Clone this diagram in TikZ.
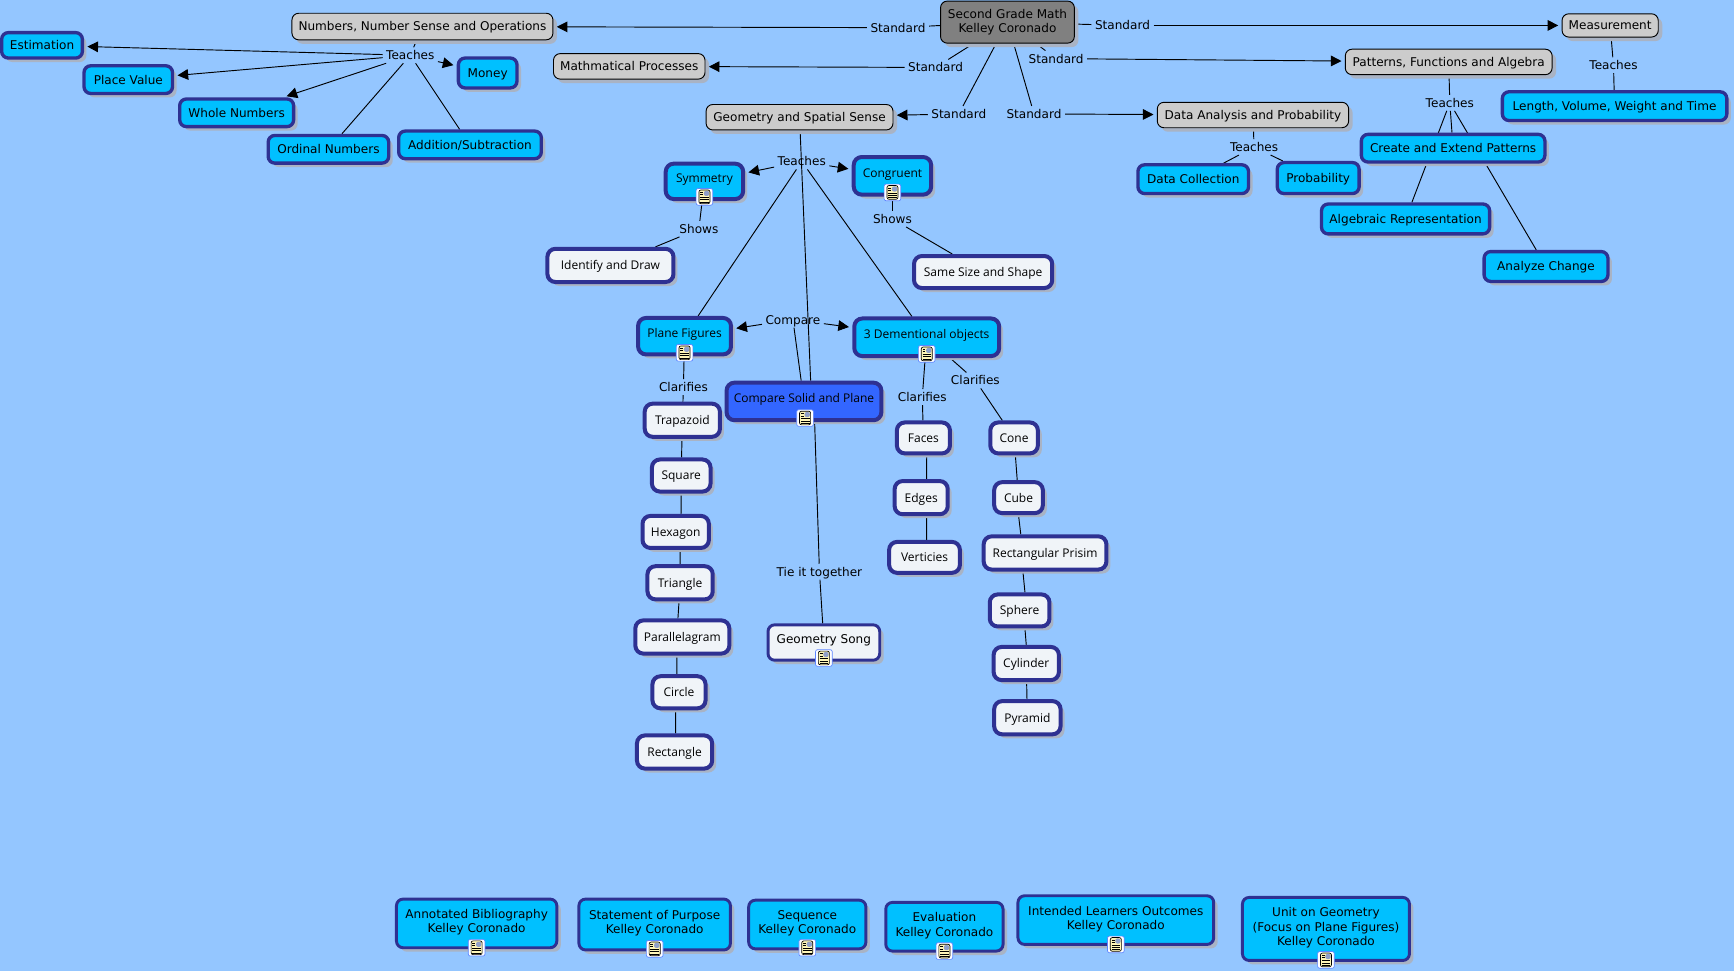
\documentclass[tikz,border=0pt]{standalone}
\usepackage{fontspec}
\setmainfont{DejaVu Sans}
\newfontfamily\handfont{Open Sans}
\usetikzlibrary{arrows.meta, shadows, backgrounds}
\definecolor{mapSky}{HTML}{94C6FF}
\definecolor{mapCyan}{HTML}{00C0FF}
\definecolor{mapNavy}{HTML}{2E3192}
\definecolor{mapGrey}{HTML}{CCCCCC}
\definecolor{mapDark}{HTML}{808080}
\definecolor{mapRoyal}{HTML}{3366FF}
\definecolor{mapWhite}{HTML}{F0F4F8}
\definecolor{mapShade}{HTML}{A9B3C4}
\definecolor{mapNote}{HTML}{FFF6B8}

\begin{document}
\begin{tikzpicture}[
    x=0.8294pt, y=-0.8294pt,
    sz/.style 2 args={minimum width={(#1-3)*0.8294pt}, minimum height={(#2-3)*0.8294pt}},
    oneline/.style={text height=6.6pt, text depth=0pt},
    multi/.style={text height=, text depth=3.6pt},
    boxed/.style={rectangle, inner sep=1pt, align=center, oneline,
                  drop shadow={shadow xshift=3pt, shadow yshift=-3pt, fill=mapShade, opacity=1}},
    topic/.style={boxed, rounded corners=5pt, draw=black, line width=0.7pt, fill=mapGrey,
                  font=\fontsize{9.05}{10.8}\selectfont},
    skill/.style={boxed, rounded corners=5pt, draw=mapNavy, line width=2.5pt, fill=mapCyan,
                  font=\fontsize{9.05}{10.8}\selectfont},
    paper/.style={skill, multi, line width=2.2pt},
    unit/.style={skill, line width=3pt, rounded corners=6pt, font=\handfont\fontsize{9}{10.8}\selectfont},
    leaf/.style={unit, fill=mapWhite},
    noted/.style={oneline, text depth=4.5pt},
    phrase/.style={inner sep=2.5pt, oneline, font=\fontsize{9.05}{10.8}\selectfont},
    noteicon/.style={rectangle, rounded corners=1.5pt, draw=mapRoyal!80, line width=0.5pt, fill=white,
                  minimum size=12.5pt, inner sep=0pt,
                  path picture={
                    \begin{scope}[shift={(path picture bounding box.center)}, draw=black]
                      \fill[mapNote] (-5,-6.2) rectangle (5,6.2);
                      \fill[mapRoyal!40!gray!70] (-0.5,-5.4) rectangle (4.3,-0.8);
                      \draw[line width=0.5pt] (-5,-6.2) rectangle (5,6.2);
                      \draw[line width=0.4pt] (-3.8,-4) -- (-1.2,-4) (-3.8,-2) -- (-1.2,-2) (-3.8,0.6) -- (4,0.6)
                        (-3.8,2.6) -- (4,2.6) (-3.8,4.6) -- (4,4.6);
                    \end{scope}}},
    link/.style={draw=black, line width=0.7pt},
    arrowto/.style={link, -{Triangle[length=8pt, width=8pt]}, shorten >=2.5pt},
  ]
    \useasboundingbox (0,0) rectangle (1568,878);

    \node[topic, multi, text depth=2pt, sz={124}{41}, fill=mapDark] (root) at (911,20) {Second Grade Math\\Kelley Coronado};
    \node[topic, sz={239}{27}] (numbers) at (382,24) {Numbers, Number Sense and Operations};
    \node[topic, sz={140}{26}] (process) at (569,60) {Mathmatical Processes};
    \node[topic, sz={172}{26}] (geometry) at (723,106) {Geometry and Spatial Sense};
    \node[topic, sz={176}{26}] (data) at (1133,104) {Data Analysis and Probability};
    \node[topic, sz={190}{26}] (patterns) at (1310,56) {Patterns, Functions and Algebra};
    \node[topic, sz={90}{24}] (measure) at (1456,23) {Measurement};

    \node[phrase] (stdNumbers) at (812,25) {Standard};
    \node[phrase] (stdProcess) at (846,61) {Standard};
    \node[phrase] (stdGeometry) at (867,103) {Standard};
    \node[phrase] (stdData) at (935,103) {Standard};
    \node[phrase] (stdPatterns) at (955,53) {Standard};
    \node[phrase] (stdMeasure) at (1015,23) {Standard};

    \node[skill, sz={76}{26}] (estimation) at (38,41) {Estimation};
    \node[skill, sz={83}{28}] (placeValue) at (116,72) {Place Value};
    \node[skill, sz={106}{28}] (wholeNum) at (214,102) {Whole Numbers};
    \node[skill, sz={112}{28}] (ordinal) at (297,135) {Ordinal Numbers};
    \node[skill, sz={132}{28}] (addition) at (425,131) {Addition/Subtraction};
    \node[skill, sz={56}{30}] (money) at (441,66) {Money};
    \node[skill, sz={206}{29}] (length) at (1460,96) {Length, Volume, Weight and Time};
    \node[skill, sz={169}{28}] (create) at (1314,134) {Create and Extend Patterns};
    \node[skill, sz={155}{30}] (algebraic) at (1271,198) {Algebraic Representation};
    \node[skill, sz={115}{30}] (analyze) at (1398,241) {Analyze Change};
    \node[skill, sz={103}{29}] (collection) at (1079,162) {Data Collection};
    \node[skill, sz={77}{31}] (probability) at (1192,161) {Probability};

    \node[phrase] (teachNumbers) at (371,50) {Teaches};
    \node[phrase] (teachMeasure) at (1459,59) {Teaches};
    \node[phrase] (teachPatterns) at (1311,93) {Teaches};
    \node[phrase] (teachData) at (1134,133) {Teaches};
    \node[phrase] (teachGeometry) at (725,146) {Teaches};

    \node[unit, noted, sz={73}{35}] (symmetry) at (637,164) {Symmetry};
    \node[unit, noted, sz={73}{37}] (congruent) at (807,159) {Congruent};
    \node[unit, noted, sz={87}{36}] (plane) at (619,304) {Plane Figures};
    \node[unit, noted, sz={134}{37}] (solid) at (838,305) {3 Dementional objects};
    \node[unit, noted, sz={143}{37}, fill=mapRoyal] (compare) at (727,363) {Compare Solid and Plane};

    \node[phrase] (showSymmetry) at (632,207) {Shows};
    \node[phrase] (showCongruent) at (807,198) {Shows};
    \node[phrase] (compareTo) at (717,289) {Compare};
    \node[phrase] (clarPlane) at (618,350) {Clarifies};
    \node[phrase] (clarFaces) at (834,359) {Clarifies};
    \node[phrase] (clarCone) at (882,344) {Clarifies};
    \node[phrase] (tieTogether) at (741,517) {Tie it together};

    \node[leaf, sz={117}{33}] (identify) at (552,240) {Identify and Draw};
    \node[leaf, sz={128}{32}] (sameSize) at (889,246) {Same Size and Shape};
    \node[leaf, sz={71}{33}] (trapazoid) at (617,380) {Trapazoid};
    \node[leaf, sz={56}{32}] (square) at (616,430) {Square};
    \node[leaf, sz={63}{32}] (hexagon) at (611,481) {Hexagon};
    \node[leaf, sz={62}{33}] (triangle) at (615,527) {Triangle};
    \node[leaf, sz={88}{33}] (parallel) at (617,576) {Parallelagram};
    \node[leaf, sz={51}{32}] (circleNode) at (614,626) {Circle};
    \node[leaf, sz={71}{33}] (rectNode) at (610,680) {Rectangle};
    \node[leaf, sz={51}{31}] (faces) at (835,396) {Faces};
    \node[leaf, sz={51}{33}] (edges) at (833,450) {Edges};
    \node[leaf, sz={67}{31}] (verticies) at (836,504) {Verticies};
    \node[leaf, sz={46}{31}] (cone) at (917,396) {Cone};
    \node[leaf, sz={47}{31}] (cube) at (921,450) {Cube};
    \node[leaf, sz={114}{33}] (prisim) at (945,500) {Rectangular Prisim};
    \node[leaf, sz={57}{32}] (sphere) at (922,552) {Sphere};
    \node[leaf, sz={62}{33}] (cylinder) at (928,600) {Cylinder};
    \node[leaf, sz={63}{33}] (pyramid) at (929,649) {Pyramid};
    \node[paper, noted, fill=mapWhite, sz={104}{35}] (song) at (745,581) {Geometry Song};

    \node[paper, sz={148}{47}] (biblio) at (431,835) {Annotated Bibliography\\Kelley Coronado};
    \node[paper, sz={140}{49}] (purpose) at (592,836) {Statement of Purpose\\Kelley Coronado};
    \node[paper, sz={109}{47}] (sequence) at (730,836) {Sequence\\Kelley Coronado};
    \node[paper, sz={109}{47}] (evaluation) at (854,838) {Evaluation\\Kelley Coronado};
    \node[paper, sz={180}{47}] (outcomes) at (1009,832) {Intended Learners Outcomes\\Kelley Coronado};
    \node[paper, sz={154}{60}] (geomUnit) at (1199,840) {Unit on Geometry\\(Focus on Plane Figures)\\Kelley Coronado};

    \node[noteicon] (iconSymmetry) at (637,178) {};
    \node[noteicon] (iconCongruent) at (807,174) {};
    \node[noteicon] (iconPlane) at (619,319) {};
    \node[noteicon] (iconSolid) at (838,320) {};
    \node[noteicon] (iconCompare) at (728,378) {};
    \node[noteicon] (iconSong) at (745,595) {};
    \node[noteicon] (iconBiblio) at (431,857) {};
    \node[noteicon] (iconPurpose) at (592,858) {};
    \node[noteicon] (iconSequence) at (730,857) {};
    \node[noteicon] (iconEvaluation) at (854,860) {};
    \node[noteicon] (iconOutcomes) at (1009,854) {};
    \node[noteicon] (iconUnit) at (1199,868) {};

    \begin{scope}[on background layer]
      \fill[mapSky] (0,0) rectangle (1568,878);

      \draw[link] (root) -- (stdNumbers);
      \draw[link] (root) -- (stdProcess);
      \draw[link] (root) -- (stdGeometry);
      \draw[link] (root) -- (stdData);
      \draw[link] (root) -- (stdPatterns);
      \draw[link] (root) -- (stdMeasure);
      \draw[arrowto] (stdNumbers) -- (numbers);
      \draw[arrowto] (stdProcess) -- (process);
      \draw[arrowto] (stdGeometry) -- (geometry);
      \draw[arrowto] (stdData) -- (data);
      \draw[arrowto] (stdPatterns) -- (patterns);
      \draw[arrowto] (stdMeasure) -- (measure);

      \draw[link] (numbers) -- (teachNumbers);
      \draw[arrowto] (teachNumbers) -- (estimation);
      \draw[arrowto] (teachNumbers) -- (placeValue);
      \draw[arrowto] (teachNumbers) -- (wholeNum);
      \draw[arrowto] (teachNumbers) -- (money);
      \draw[link] (teachNumbers) -- (ordinal);
      \draw[link] (teachNumbers) -- (addition);

      \draw[link] (measure) -- (teachMeasure);
      \draw[link] (teachMeasure) -- (length);
      \draw[link] (patterns) -- (teachPatterns);
      \draw[link] (teachPatterns) -- (create);
      \draw[link] (teachPatterns) -- (algebraic);
      \draw[link] (teachPatterns) -- (analyze);
      \draw[link] (data) -- (teachData);
      \draw[link] (teachData) -- (collection);
      \draw[link] (teachData) -- (probability);

      \draw[link] (geometry) -- ([xshift=5pt]compare.north);
      \draw[arrowto] (teachGeometry) -- (symmetry);
      \draw[arrowto] (teachGeometry) -- (congruent);
      \draw[link] (teachGeometry) -- (plane);
      \draw[link] (teachGeometry) -- (solid);
      \draw[link] (symmetry) -- (showSymmetry);
      \draw[link] (showSymmetry) -- (identify);
      \draw[link] (congruent) -- (showCongruent);
      \draw[link] (showCongruent) -- (sameSize);
      \draw[arrowto] (compareTo) -- (plane);
      \draw[arrowto] (compareTo) -- (solid);
      \draw[link] (compareTo) -- (compare);
      \draw[link] ([xshift=8pt]compare.south) -- (tieTogether);
      \draw[link] (tieTogether) -- (song);

      \draw[link] (plane) -- (clarPlane);
      \draw[link] (clarPlane) -- (trapazoid);
      \draw[link] (trapazoid) -- (square);
      \draw[link] (square.south) -- ([xshift=4pt]hexagon.north);
      \draw[link] ([xshift=3.3pt]hexagon.south) -- (triangle.north);
      \draw[link] ([xshift=-0.8pt]triangle.south) -- ([xshift=-3.3pt]parallel.north);
      \draw[link] ([xshift=-4.1pt]parallel.south) -- ([xshift=-1.6pt]circleNode.north);
      \draw[link] ([xshift=-2.5pt]circleNode.south) -- ([xshift=0.8pt]rectNode.north);

      \draw[link] (solid) -- (clarFaces);
      \draw[link] (clarFaces) -- (faces);
      \draw[link] ([xshift=2.5pt]faces.south) -- ([xshift=4pt]edges.north);
      \draw[link] ([xshift=4pt]edges.south) -- ([xshift=1.6pt]verticies.north);
      \draw[link] (solid) -- (clarCone);
      \draw[link] (clarCone) -- (cone);
      \draw[link] (cone) -- (cube);
      \draw[link] (cube.south) -- ([xshift=-18.2pt]prisim.north);
      \draw[link] ([xshift=-16.6pt]prisim.south) -- ([xshift=4pt]sphere.north);
      \draw[link] ([xshift=4pt]sphere.south) -- (cylinder.north);
      \draw[link] (cylinder) -- (pyramid);
    \end{scope}
  \end{tikzpicture}
\end{document}
